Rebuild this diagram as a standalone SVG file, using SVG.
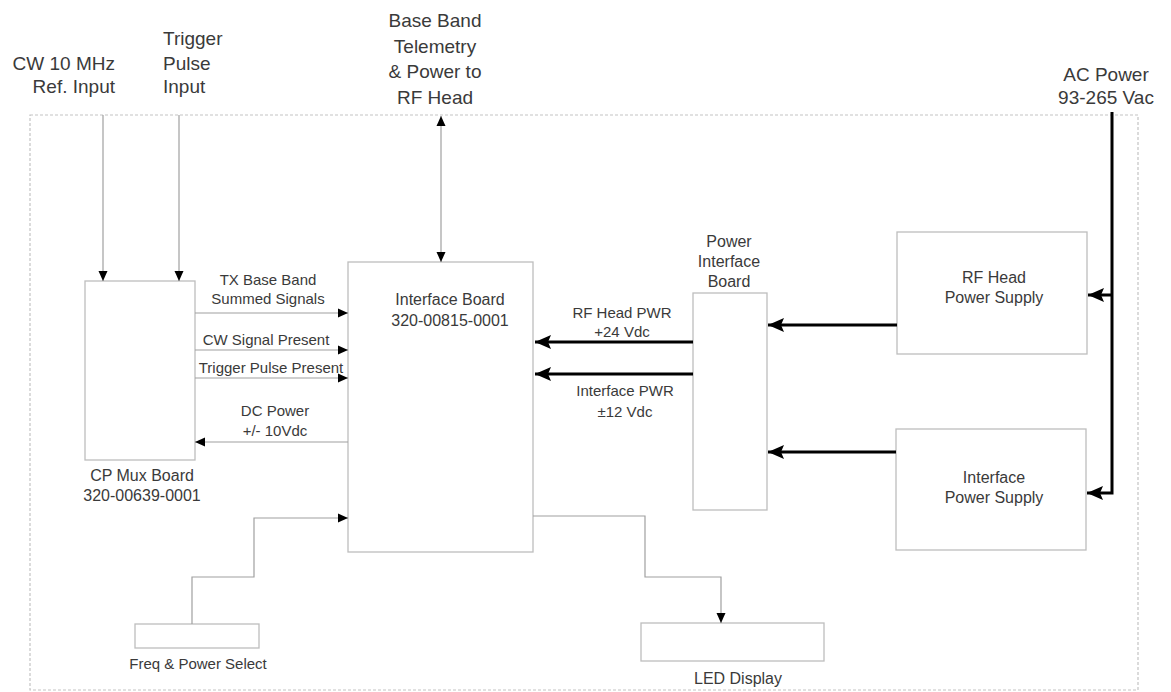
<svg xmlns="http://www.w3.org/2000/svg" width="1171" height="692" viewBox="0 0 1171 692">
<style>
text{font-family:"Liberation Sans",Arial,sans-serif;fill:#3a3a3a;}
.top{font-size:19px;}
.lbl{font-size:16px;}
.sm{font-size:15px;}
.box{fill:#fff;stroke:#bdbdbd;stroke-width:1.3;}
.thin{fill:none;stroke:#a0a0a0;stroke-width:1.2;}
.thick{fill:none;stroke:#000;stroke-width:3;}
.border{fill:none;stroke:#c4c4c4;stroke-width:1.2;stroke-dasharray:3 2;}
</style>
<defs>
<marker id="a" markerUnits="userSpaceOnUse" markerWidth="10" markerHeight="10" refX="10" refY="5" orient="auto-start-reverse" viewBox="0 0 10 10"><path d="M0,0.5 L10,5 L0,9.5 z" fill="#000"/></marker>
<marker id="b" markerUnits="userSpaceOnUse" markerWidth="16" markerHeight="14" refX="16" refY="7" orient="auto" viewBox="0 0 16 14"><path d="M0,0 L16,7 L0,14 L3,7 z" fill="#000"/></marker>
</defs>
<rect class="border" x="30" y="115" width="1108" height="575"/>
<g id="labels-top">
<text class="top" x="115" y="70" text-anchor="end">CW 10 MHz</text>
<text class="top" x="115" y="93" text-anchor="end">Ref. Input</text>
<text class="top" x="163" y="45">Trigger</text>
<text class="top" x="163" y="70">Pulse</text>
<text class="top" x="163" y="93">Input</text>
<text class="top" x="435" y="27" text-anchor="middle">Base Band</text>
<text class="top" x="435" y="53" text-anchor="middle">Telemetry</text>
<text class="top" x="435" y="78" text-anchor="middle">&amp; Power to</text>
<text class="top" x="435" y="104" text-anchor="middle">RF Head</text>
<text class="top" x="1106" y="81" text-anchor="middle">AC Power</text>
<text class="top" x="1106" y="104" text-anchor="middle">93-265 Vac</text>
</g>
<g id="cpmux">
<rect class="box" x="85" y="281" width="110" height="179"/>
<text class="lbl" x="142" y="481" text-anchor="middle">CP Mux Board</text>
<text class="lbl" x="142" y="501" text-anchor="middle">320-00639-0001</text>
</g>
<g id="interface-board">
<rect class="box" x="348" y="262" width="185" height="290"/>
<text class="lbl" x="450" y="305" text-anchor="middle">Interface Board</text>
<text class="lbl" x="450" y="326" text-anchor="middle">320-00815-0001</text>
</g>
<g id="power-interface-board">
<rect class="box" x="693" y="293" width="74" height="217"/>
<text class="lbl" x="729" y="247" text-anchor="middle">Power</text>
<text class="lbl" x="729" y="267" text-anchor="middle">Interface</text>
<text class="lbl" x="729" y="287" text-anchor="middle">Board</text>
</g>
<g id="rf-head-ps">
<rect class="box" x="897" y="232" width="190" height="122"/>
<text class="lbl" x="994" y="283" text-anchor="middle">RF Head</text>
<text class="lbl" x="994" y="303" text-anchor="middle">Power Supply</text>
</g>
<g id="interface-ps">
<rect class="box" x="896" y="429" width="190" height="121"/>
<text class="lbl" x="994" y="483" text-anchor="middle">Interface</text>
<text class="lbl" x="994" y="503" text-anchor="middle">Power Supply</text>
</g>
<g id="freq-select">
<rect class="box" x="135" y="624" width="124" height="24"/>
<text class="sm" x="198" y="669" text-anchor="middle">Freq &amp; Power Select</text>
</g>
<g id="led-display">
<rect class="box" x="641" y="623" width="183" height="38"/>
<text class="lbl" x="738" y="684" text-anchor="middle">LED Display</text>
</g>
<g id="connectors">
<line class="thin" x1="103" y1="115" x2="103" y2="281" marker-end="url(#a)"/>
<line class="thin" x1="179" y1="115" x2="179" y2="281" marker-end="url(#a)"/>
<line class="thin" x1="441" y1="116" x2="441" y2="262" marker-start="url(#a)" marker-end="url(#a)"/>
<line class="thin" x1="195" y1="313" x2="348" y2="313" marker-end="url(#a)"/>
<line class="thin" x1="195" y1="350" x2="348" y2="350" marker-end="url(#a)"/>
<line class="thin" x1="195" y1="378" x2="348" y2="378" marker-end="url(#a)"/>
<line class="thin" x1="348" y1="442" x2="195" y2="442" marker-end="url(#a)"/>
<polyline class="thin" points="192,624 192,577 254,577 254,518 348,518" marker-end="url(#a)"/>
<polyline class="thin" points="533,516 645,516 645,577 721,577 721,623" marker-end="url(#a)"/>
<line class="thick" x1="693" y1="342" x2="535" y2="342" marker-end="url(#b)"/>
<line class="thick" x1="693" y1="374" x2="535" y2="374" marker-end="url(#b)"/>
<line class="thick" x1="897" y1="325" x2="768" y2="325" marker-end="url(#b)"/>
<line class="thick" x1="896" y1="452" x2="768" y2="452" marker-end="url(#b)"/>
<polyline class="thick" points="1112,112 1112,493 1087,493" marker-end="url(#b)"/>
<line class="thick" x1="1112" y1="295" x2="1088" y2="295" marker-end="url(#b)"/>
<text class="sm" x="268" y="285" text-anchor="middle">TX Base Band</text>
<text class="sm" x="268" y="304" text-anchor="middle">Summed Signals</text>
<text class="sm" x="266" y="345" text-anchor="middle">CW Signal Present</text>
<text class="sm" x="271" y="373" text-anchor="middle">Trigger Pulse Present</text>
<text class="sm" x="275" y="416" text-anchor="middle">DC Power</text>
<text class="sm" x="275" y="436" text-anchor="middle">+/- 10Vdc</text>
<text class="sm" x="622" y="318" text-anchor="middle">RF Head PWR</text>
<text class="sm" x="622" y="337" text-anchor="middle">+24 Vdc</text>
<text class="sm" x="625" y="396" text-anchor="middle">Interface PWR</text>
<text class="sm" x="625" y="417" text-anchor="middle">±12 Vdc</text>
</g>
</svg>
